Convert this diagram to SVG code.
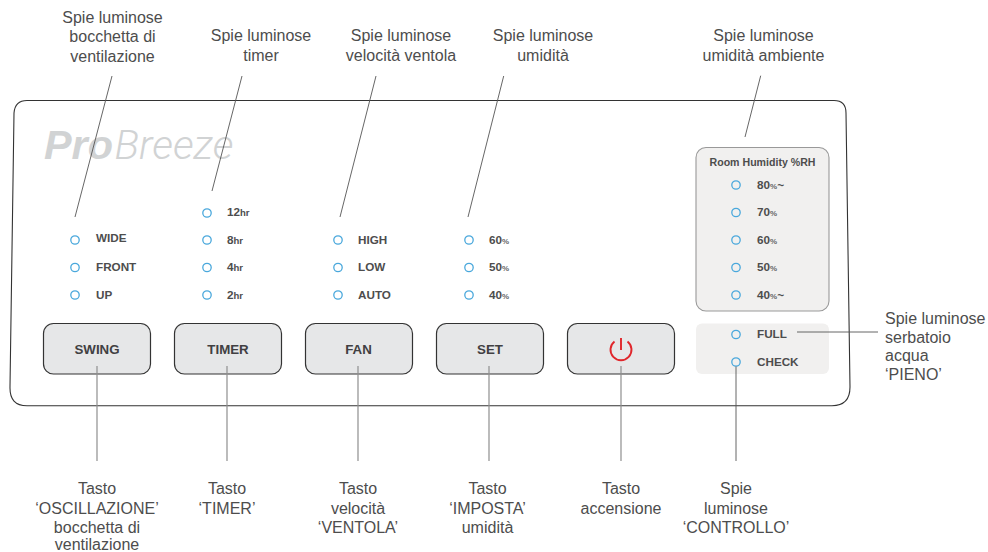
<svg xmlns="http://www.w3.org/2000/svg" width="988" height="552" viewBox="0 0 988 552">
<style>
text{font-family:"Liberation Sans",Arial,sans-serif}
.lab{font-size:16px;fill:#4d4d4d;text-anchor:middle}
.ls{font-size:16px;fill:#4d4d4d}
.t{font-size:11.700px;font-weight:700;fill:#4d4d4d}
.s{font-size:8px;fill:#666}
.sb{font-size:9.500px}
.b{font-size:13.300px;font-weight:700;fill:#414042;text-anchor:middle}
.btn{fill:#e6e7e8;stroke:#333;stroke-width:1.2}
.led{fill:none;stroke:#4aa8dc;stroke-width:1.3}
.ln{fill:none;stroke:#555;stroke-width:.9}
.lg{fill:none;stroke:#8f8f8f;stroke-width:1.2}
.logo{font-size:41px;fill:#d1d3d4;font-style:italic}
</style>
<rect width="988" height="552" fill="#fff"/>
<g id="panel">
<path d="M27,100.500H834Q846,100.500 846,113L850,387Q850,405.700 832,405.700H27Q9.500,405.700 10,387L14,113Q15,100.500 27,100.500Z" fill="#fff" stroke="#333" stroke-width="1.100"/>
<text class="logo" x="44" y="159" font-weight="700" textLength="69" lengthAdjust="spacingAndGlyphs">Pro</text>
<text class="logo" x="114.500" y="159" font-weight="300" style="font-family:Roboto,'Liberation Sans',sans-serif" textLength="119" lengthAdjust="spacingAndGlyphs">Breeze</text>
</g>
<g id="swing">
<rect class="btn" x="43.500" y="323.500" width="107" height="50.500" rx="10"/><text class="b" x="97" y="354">SWING</text>
<circle class="led" cx="75" cy="240" r="4.200"/><text class="t" x="96" y="242">WIDE</text>
<circle class="led" cx="75" cy="267.500" r="4.200"/><text class="t" x="96" y="271">FRONT</text>
<circle class="led" cx="75" cy="295" r="4.200"/><text class="t" x="96" y="299">UP</text>
</g>
<g id="timer">
<rect class="btn" x="174.500" y="323.500" width="107" height="50.500" rx="10"/><text class="b" x="228" y="354">TIMER</text>
<circle class="led" cx="207" cy="213" r="4.200"/><text class="t" x="227" y="216">12<tspan class="sb">hr</tspan></text>
<circle class="led" cx="207" cy="240" r="4.200"/><text class="t" x="227" y="244">8<tspan class="sb">hr</tspan></text>
<circle class="led" cx="207" cy="267.500" r="4.200"/><text class="t" x="227" y="271">4<tspan class="sb">hr</tspan></text>
<circle class="led" cx="207" cy="295" r="4.200"/><text class="t" x="227" y="299">2<tspan class="sb">hr</tspan></text>
</g>
<g id="fan">
<rect class="btn" x="305.500" y="323.500" width="107" height="50.500" rx="10"/><text class="b" x="358.500" y="354">FAN</text>
<circle class="led" cx="338" cy="240" r="4.200"/><text class="t" x="358" y="244">HIGH</text>
<circle class="led" cx="338" cy="267.500" r="4.200"/><text class="t" x="358" y="271">LOW</text>
<circle class="led" cx="338" cy="295" r="4.200"/><text class="t" x="358" y="299">AUTO</text>
</g>
<g id="set">
<rect class="btn" x="436.500" y="323.500" width="107" height="50.500" rx="10"/><text class="b" x="490" y="354">SET</text>
<circle class="led" cx="469" cy="240" r="4.200"/><text class="t" x="489" y="244">60<tspan class="s">%</tspan></text>
<circle class="led" cx="469" cy="267.500" r="4.200"/><text class="t" x="489" y="271">50<tspan class="s">%</tspan></text>
<circle class="led" cx="469" cy="295" r="4.200"/><text class="t" x="489" y="299">40<tspan class="s">%</tspan></text>
</g>
<g id="power">
<rect class="btn" x="567.500" y="323.500" width="107" height="50.500" rx="10"/>
<path d="M614.500,341.500A10.500,10.500 0 1 0 627.500,341.500M621,338V350" fill="none" stroke="#e0262b" stroke-width="1.900"/>
</g>
<g id="room-humidity">
<rect x="696" y="147.500" width="133" height="163.500" rx="10" fill="#f1f0ef" stroke="#999" stroke-width="1.100"/>
<text x="762.500" y="166" font-size="10.600" font-weight="700" fill="#4d4d4d" text-anchor="middle">Room Humidity %RH</text>
<circle class="led" cx="736" cy="185" r="4.200"/><text class="t" x="757" y="189">80<tspan class="s">%</tspan>~</text>
<circle class="led" cx="736" cy="212.500" r="4.200"/><text class="t" x="757" y="216">70<tspan class="s">%</tspan></text>
<circle class="led" cx="736" cy="240" r="4.200"/><text class="t" x="757" y="244">60<tspan class="s">%</tspan></text>
<circle class="led" cx="736" cy="267.500" r="4.200"/><text class="t" x="757" y="271">50<tspan class="s">%</tspan></text>
<circle class="led" cx="736" cy="295" r="4.200"/><text class="t" x="757" y="299">40<tspan class="s">%</tspan>~</text>
</g>
<g id="tank">
<rect x="696" y="323.500" width="133" height="50.500" rx="6" fill="#f1f0ef"/>
<circle class="led" cx="736" cy="334.500" r="4.200"/><text class="t" x="757" y="338">FULL</text>
<circle class="led" cx="736" cy="362" r="4.200"/><text class="t" x="757" y="366">CHECK</text>
</g>
<g id="connectors">
<path class="ln" d="M112,76L75,217M242,76L212,191M376,76L340,217M503.700,76L468,217M760.700,75.700L745,137M797,332H878M736,366.500V461"/>
<path class="lg" d="M97,366V461M227,366V461M358,366V461M489,366V461M621,366V461"/>
</g>
<g id="labels">
<text class="lab" x="112.500" y="23">Spie luminose</text><text class="lab" x="112.500" y="42">bocchetta di</text><text class="lab" x="112.500" y="61.500">ventilazione</text>
<text class="lab" x="261" y="40.500">Spie luminose</text><text class="lab" x="261" y="60.500">timer</text>
<text class="lab" x="401" y="40.500">Spie luminose</text><text class="lab" x="401" y="60.500">velocità ventola</text>
<text class="lab" x="543" y="40.500">Spie luminose</text><text class="lab" x="543" y="60.500">umidità</text>
<text class="lab" x="763.500" y="40.500">Spie luminose</text><text class="lab" x="763.500" y="60.500">umidità ambiente</text>
<text class="ls" x="885" y="324">Spie luminose</text><text class="ls" x="885" y="343">serbatoio</text><text class="ls" x="885" y="361">acqua</text><text class="ls" x="885" y="380">‘PIENO’</text>
<text class="lab" x="97" y="494">Tasto</text><text class="lab" x="97" y="514">‘OSCILLAZIONE’</text><text class="lab" x="97" y="533">bocchetta di</text><text class="lab" x="97" y="550">ventilazione</text>
<text class="lab" x="227" y="494">Tasto</text><text class="lab" x="227" y="514">‘TIMER’</text>
<text class="lab" x="358" y="494">Tasto</text><text class="lab" x="358" y="514">velocità</text><text class="lab" x="358" y="533">‘VENTOLA’</text>
<text class="lab" x="487.500" y="494">Tasto</text><text class="lab" x="487.500" y="514">‘IMPOSTA’</text><text class="lab" x="487.500" y="533">umidità</text>
<text class="lab" x="621" y="494">Tasto</text><text class="lab" x="621" y="514">accensione</text>
<text class="lab" x="736" y="494">Spie</text><text class="lab" x="736" y="514">luminose</text><text class="lab" x="736" y="533">‘CONTROLLO’</text>
</g>
</svg>
